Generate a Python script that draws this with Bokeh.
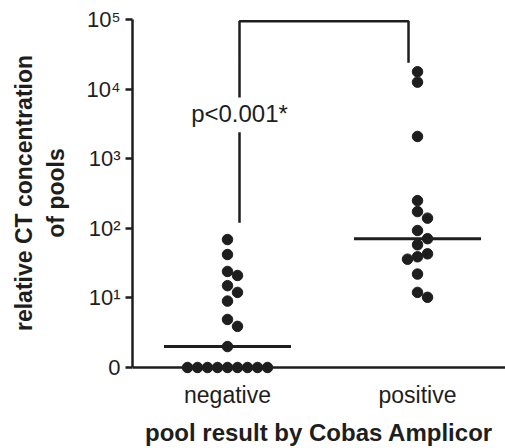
import numpy as np
from bokeh.plotting import figure
from bokeh.models import FixedTicker, Range1d, Span
from bokeh.core.properties import value
from bokeh.embed import file_html
from bokeh.resources import INLINE

# ---------------- data ----------------
groups = ["negative", "positive"]
negative_values = [69, 42, 24, 21, 15, 12, 9, 4.9, 3.9, 2, 0, 0, 0, 0, 0, 0, 0, 0, 0]
positive_values = [17800, 12600, 2090, 250, 174, 140, 93, 71, 58, 43, 39, 36, 22, 12, 10.2]
y_tick_values = [0, 1, 2, 3, 4, 5]
y_tick_labels = ["0", "10¹", "10²", "10³", "10⁴", "10⁵"]
p_text = "p<0.001*"
x_title = "pool result by Cobas Amplicor"
y_title = "relative CT concentration\nof pools"

# ---------------- layout ----------------
W, H = 505, 448
FL, FR, FT, FB = 132, 505, 10, 375
X0, X1 = 0.5, 2.463
Y0, Y1 = -0.115, 5.13
PXX = (FR - FL) / (X1 - X0)
PXY = (FB - FT) / (Y1 - Y0)
INK = "#1e1e1e"
FONT = "Liberation Sans"


def to_axis(v):
    return float(np.log10(v)) if v > 0 else 0.0


def swarm(ys, step=10.0, dmin=10.0):
    order = np.argsort(-np.asarray(ys), kind="stable")
    cands = [0]
    for n in range(1, 40):
        cands += [n, -n]
    placed = []
    offs = [0.0] * len(ys)
    for i in order:
        h = ys[i] * PXY
        dx = 0.0
        for c in cands:
            dx = c * step
            if all((dx - a) ** 2 + (h - b) ** 2 >= dmin ** 2 - 1e-6 for a, b in placed):
                break
        placed.append((dx, h))
        offs[i] = dx / PXX
    return offs


p = figure(width=W, height=H, output_backend="svg", toolbar_location=None,
           x_range=Range1d(X0, X1), y_range=Range1d(Y0, Y1),
           min_border_left=FL, min_border_right=0, min_border_top=FT,
           min_border_bottom=H - FB)
p.grid.visible = False
p.outline_line_color = None
p.background_fill_color = "white"
p.border_fill_color = "white"

series = [negative_values, positive_values]
for gi, vals in enumerate(series):
    center = gi + 1
    ys = [to_axis(v) for v in vals]
    offs = swarm(ys)
    xs = [center + o for o in offs]
    p.scatter(xs, ys, size=10.5, color=INK, line_color=INK)
    med = to_axis(float(np.median(vals)))
    half = 63.5 / PXX
    p.segment(x0=[center - half], x1=[center + half], y0=[med], y1=[med],
              line_width=3, line_color=INK)

# significance bracket
neg_top = max(to_axis(v) for v in negative_values)
pos_top = max(to_axis(v) for v in positive_values)
bl = 1 + 12 / PXX
br = 2 - 9 / PXX
btop = 4.975
text_y = 3.65
p.line([bl, bl, br, br], [text_y + 0.23, btop, btop, pos_top + 0.13],
       line_width=2.5, line_color=INK)
p.line([bl, bl], [neg_top + 0.24, text_y - 0.27], line_width=2.5, line_color=INK)
p.text([bl], [text_y], text=[p_text], text_align="center", text_baseline="middle",
       text_font=value(FONT), text_font_size="24px", text_color=INK)

# x axis line at zero
p.add_layout(Span(location=0, dimension="width", line_width=2.5, line_color=INK))

xa = p.xaxis[0]
xa.ticker = FixedTicker(ticks=[1, 2])
xa.major_label_overrides = {1: groups[0], 2: groups[1]}
xa.axis_line_color = None
xa.major_tick_line_color = None
xa.minor_tick_line_color = None
xa.major_label_text_font = FONT
xa.major_label_text_font_size = "23px"
xa.major_label_text_color = INK
xa.major_label_standoff = 0
xa.axis_label = x_title
xa.axis_label_text_font = FONT
xa.axis_label_text_font_style = "bold"
xa.axis_label_text_font_size = "24px"
xa.axis_label_text_color = INK
xa.axis_label_standoff = 8

ya = p.yaxis[0]
ya.ticker = FixedTicker(ticks=y_tick_values)
ya.major_label_overrides = {t: l for t, l in zip(y_tick_values, y_tick_labels)}
ya.bounds = (0, 5)
ya.axis_line_width = 2.5
ya.axis_line_color = INK
ya.major_tick_out = 7
ya.major_tick_in = 0
ya.major_tick_line_width = 2.5
ya.major_tick_line_color = INK
ya.minor_tick_line_color = None
ya.major_label_text_font = FONT
ya.major_label_text_font_size = "22px"
ya.major_label_text_color = INK
ya.major_label_standoff = 5
ya.axis_label = y_title
ya.axis_label_text_font = FONT
ya.axis_label_text_font_style = "bold"
ya.axis_label_text_font_size = "23px"
ya.axis_label_text_color = INK
ya.axis_label_standoff = 15

open("out.html", "w").write(file_html(p, INLINE))
